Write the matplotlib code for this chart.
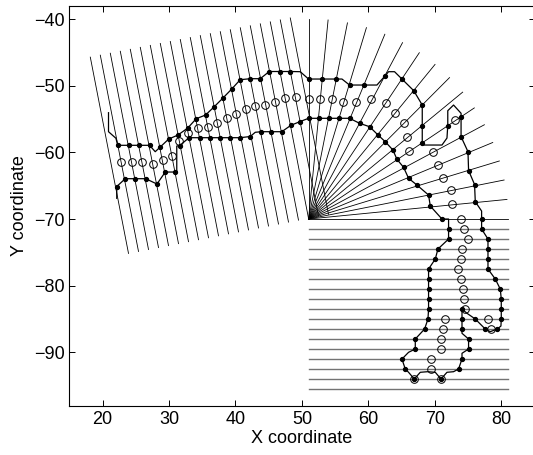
import numpy as np
import matplotlib
matplotlib.use("Agg")
import matplotlib.pyplot as plt

plt.rcParams['font.family'] = ['Liberation Sans', 'DejaVu Sans']
plt.rcParams['font.size'] = 13

# cross-section geometry
sec_len = 30.0
left_start = (23.91, -75.16)        # foot of first slanted section
left_angle = 11.05                  # degrees, direction of left baseline
left_station = 1.533 * np.arange(21)
fan_center = (51.0, -70.0)
fan_angles = np.linspace(90, 0, 17)
bot_x = (51.0, 81.0)
bot_y = -71.5 - 1.5 * np.arange(17)

# channel boundary (one polyline), dot = marked crossing
bnd_x = [20.90, 20.90, 22.02, 22.29, 23.91, 25.52, 27.07, 27.93, 28.68, 29.96,
         31.35, 32.82, 34.10, 35.50, 36.81, 38.12, 39.44, 40.72, 42.23, 43.73,
         45.09, 46.67, 48.25, 49.75, 51.00, 53.06, 55.17, 56.03, 57.17, 59.31,
         61.29, 62.54, 63.04, 63.94, 65.06, 66.83, 68.11, 68.11, 68.11, 68.41,
         71.08, 71.83, 71.95, 71.95, 72.82, 73.95, 73.95, 73.95, 74.99, 75.08,
         75.98, 76.09, 77.04, 77.04, 77.04, 78.00, 78.00, 78.00, 78.00, 79.10,
         79.85, 80.00, 80.00, 80.00, 79.95, 79.40, 78.34, 77.59, 76.09, 74.84,
         74.09, 74.09, 74.09, 74.09, 75.08, 75.08, 74.09, 74.09, 73.57, 72.82,
         71.83, 70.93, 70.07, 68.91, 67.81, 66.91, 66.05, 65.55, 65.06, 66.05,
         67.06, 67.06, 68.46, 68.97, 69.06, 69.06, 69.06, 69.06, 69.06, 70.07,
         70.47, 72.07, 72.07, 72.07, 71.08, 69.32, 69.06, 67.31, 66.05, 65.30,
         64.30, 63.70, 62.54, 61.38, 60.18, 58.68, 57.17, 55.62, 54.12, 52.61,
         51.00, 49.68, 48.35, 46.97, 45.39, 43.88, 42.98, 42.23, 40.72, 39.14,
         37.61, 36.10, 34.60, 33.02, 31.62, 31.17, 31.17, 30.94, 29.44, 28.19,
         26.50, 24.92, 23.42, 22.14, 22.14]
bnd_y = [-54.05, -56.90, -57.89, -58.94, -58.94, -58.94, -58.94, -59.90, -59.20, -58.00,
         -57.40, -56.35, -54.95, -54.40, -53.15, -51.85, -50.50, -49.10, -48.95, -48.95,
         -47.87, -47.87, -47.87, -47.90, -49.00, -49.00, -49.00, -49.00, -49.90, -49.90,
         -49.90, -48.50, -47.90, -47.90, -49.00, -50.75, -52.90, -55.97, -58.55, -58.90,
         -58.90, -57.85, -55.97, -53.75, -52.90, -54.14, -54.65, -57.65, -59.90, -62.72,
         -64.82, -67.40, -68.80, -70.00, -71.50, -73.00, -74.50, -76.00, -77.50, -79.00,
         -80.50, -82.00, -83.50, -85.00, -86.05, -86.50, -86.90, -86.50, -85.00, -84.14,
         -83.50, -85.00, -86.50, -87.14, -88.00, -89.50, -90.14, -91.00, -92.50, -92.90,
         -92.99, -94.00, -92.99, -92.90, -92.99, -94.00, -92.99, -92.50, -91.00, -89.99,
         -89.50, -88.00, -86.50, -85.00, -83.50, -82.00, -80.50, -79.00, -77.50, -76.00,
         -74.50, -73.00, -71.50, -70.00, -70.00, -68.05, -66.40, -64.90, -63.89, -62.24,
         -61.04, -59.65, -58.40, -57.32, -56.15, -55.64, -54.89, -54.89, -54.89, -54.89,
         -54.89, -55.40, -55.94, -56.90, -56.90, -56.90, -56.99, -57.62, -57.80, -57.80,
         -57.80, -57.80, -57.80, -57.80, -58.97, -59.05, -62.95, -62.95, -62.95, -64.75,
         -63.95, -63.95, -63.95, -65.12, -66.89]
bnd_dot = [0, 0, 0, 1, 1, 1, 1, 0, 1, 1,
           1, 1, 1, 1, 1, 1, 1, 1, 1, 1,
           1, 1, 1, 0, 1, 1, 1, 0, 1, 1,
           0, 1, 0, 0, 1, 1, 1, 1, 1, 0,
           0, 0, 1, 0, 0, 0, 1, 1, 1, 1,
           1, 1, 0, 1, 1, 1, 1, 1, 1, 1,
           1, 1, 1, 1, 0, 1, 0, 1, 1, 0,
           1, 1, 1, 0, 1, 1, 0, 1, 1, 0,
           0, 1, 0, 0, 0, 1, 0, 1, 1, 0,
           1, 1, 1, 1, 1, 1, 1, 1, 1, 1,
           1, 1, 1, 0, 1, 1, 1, 1, 1, 1,
           1, 1, 1, 1, 1, 1, 1, 1, 1, 1,
           1, 1, 1, 1, 1, 1, 0, 1, 1, 1,
           1, 1, 1, 1, 1, 0, 0, 1, 1, 1,
           1, 1, 1, 1, 0]

# centre points (open circles)
ctr_x = [22.81, 24.36, 25.90, 27.63, 29.03, 30.44, 31.54, 32.85, 34.36, 35.83,
         37.22, 38.72, 40.12, 41.55, 42.98, 44.48, 45.99, 47.45, 49.15,
         51.00, 52.72, 54.52, 56.22, 58.18, 60.41, 62.59, 64.05, 65.30, 65.81,
         66.11, 69.66, 70.52, 71.23, 72.48, 72.58, 73.94, 72.97,
         74.43, 74.99, 74.09, 73.95, 73.45, 73.94, 74.18, 74.46, 74.51, 71.47,
         71.23, 70.97, 70.97, 69.47, 69.47, 66.91, 70.93, 77.97, 78.49]
ctr_y = [-61.49, -61.49, -61.49, -61.79, -61.15, -60.50, -58.25, -57.05, -56.35, -56.15,
         -55.55, -54.89, -54.25, -53.42, -52.97, -52.85, -52.40, -51.89, -51.65,
         -51.92, -51.95, -51.95, -52.40, -52.40, -51.95, -52.52, -54.14, -55.64, -57.74,
         -59.80, -59.95, -61.85, -63.77, -65.65, -67.78, -70.00, -55.19,
         -71.50, -73.00, -74.50, -76.00, -77.50, -79.00, -80.50, -82.00, -83.50, -85.00,
         -86.50, -88.00, -89.50, -91.00, -92.50, -94.00, -94.00, -85.00, -86.50]

fig = plt.figure(figsize=(5.33, 4.55), dpi=100)
ax = fig.add_axes([69.3 / 533, 49.3 / 455, 465.2 / 533, 400 / 455])

# slanted sections of the straight reach
a = np.radians(left_angle)
for s in left_station:
    x0 = left_start[0] + s * np.cos(a)
    y0 = left_start[1] + s * np.sin(a)
    ax.plot([x0, x0 - sec_len * np.sin(a)], [y0, y0 + sec_len * np.cos(a)],
            color='k', lw=0.6)

# radial sections of the bend
for ang in np.radians(fan_angles):
    ax.plot([fan_center[0], fan_center[0] + sec_len * np.cos(ang)],
            [fan_center[1], fan_center[1] + sec_len * np.sin(ang)],
            color='k', lw=0.6)

# horizontal sections of the lower reach
for yy in bot_y:
    ax.plot(bot_x, [yy, yy], color='0.45', lw=1.0)

bx = np.array(bnd_x)
by = np.array(bnd_y)
dm = np.array(bnd_dot, dtype=bool)
ax.plot(bx, by, color='k', lw=0.9)
ax.plot(bx[dm], by[dm], 'o', color='k', ms=2.8)
ax.plot(ctr_x, ctr_y, 'o', mfc='none', mec='k', ms=5.5, mew=0.7)

ax.set_xlim(15, 85)
ax.set_ylim(-98, -38)
ax.set_xticks(np.arange(20, 81, 10))
ax.set_yticks(np.arange(-90, -39, 10))
ax.tick_params(direction='in', length=4, top=True, right=True, width=0.7)
for sp in ax.spines.values():
    sp.set_linewidth(0.8)
ax.set_xlabel('X coordinate', labelpad=2)
ax.set_ylabel('Y coordinate', labelpad=4)

fig.savefig('out.png', dpi=100)
